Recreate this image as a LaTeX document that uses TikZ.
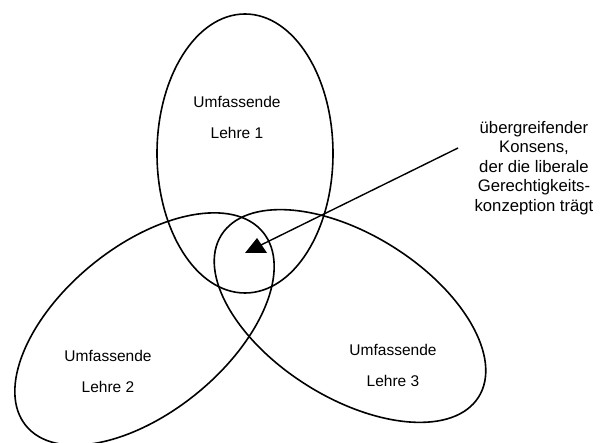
\documentclass[tikz,border=0pt]{standalone}
\usepackage{fontspec}
\setmainfont{Liberation Sans}
\usetikzlibrary{shapes.geometric}
\begin{document}
\begin{tikzpicture}[x=1pt,y=-1pt,
  lehre/.style={ellipse,draw,line width=1.6pt,inner sep=0pt,outer sep=0pt},
  lab/.style={align=center,font=\fontsize{15.5}{31}\selectfont,anchor=base,inner sep=0pt},
  note/.style={align=center,font=\fontsize{16.7}{19.6}\selectfont,anchor=base,inner sep=0pt},
  pointer/.style={line width=1.4pt}]
\useasboundingbox[fill=white] (0,0) rectangle (600,443);
\node[lehre,minimum width=176pt,minimum height=279pt] (e1) at (245,153.5) {};
\node[lehre,minimum width=306pt,minimum height=166pt,rotate=39.2] (e2) at (144.5,329) {};
\node[lehre,minimum width=304pt,minimum height=163pt,rotate=-32.2] (e3) at (350,316) {};
\node[lab] (t1) at (237,139) {Umfassende\\Lehre 1};
\node[lab] (t2) at (108,393) {Umfassende\\Lehre 2};
\node[lab] (t3) at (393,387) {Umfassende\\Lehre 3};
\node[note] (k) at (534,211.5) {übergreifender\\Konsens,\\der die liberale\\Gerechtigkeits-\\konzeption trägt};
\coordinate (start) at (458,148);
\coordinate (tip) at (261,245);
\draw[pointer] (start) -- (tip);
\fill (257,238) -- (245,253) -- (267,253) -- cycle;
\end{tikzpicture}
\end{document}
